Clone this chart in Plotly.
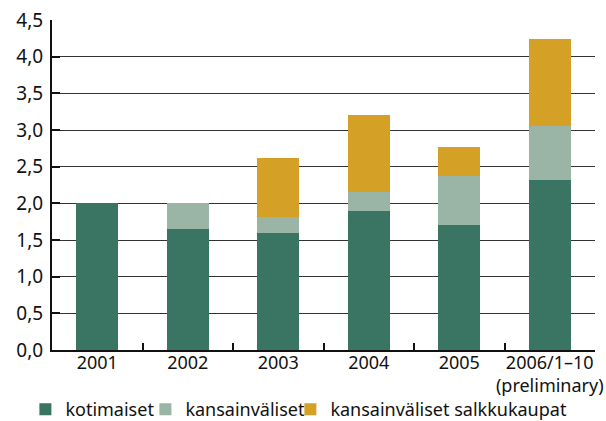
import plotly.graph_objects as go

categories = ["2001", "2002", "2003", "2004", "2005", "2006/1–10<br>(preliminary)"]
kotimaiset = [2.0, 1.65, 1.59, 1.90, 1.70, 2.32]
kansainvaliset = [0.0, 0.36, 0.22, 0.25, 0.67, 0.73]
salkkukaupat = [0.0, 0.0, 0.81, 1.05, 0.40, 1.19]
y_ticks = [0, 0.5, 1.0, 1.5, 2.0, 2.5, 3.0, 3.5, 4.0, 4.5]

fig = go.Figure()
fig.add_bar(x=categories, y=kotimaiset, name="kotimaiset", marker_color="#3a7563",
            marker_line_width=0, legend="legend")
fig.add_bar(x=categories, y=kansainvaliset, name="kansainväliset", marker_color="#9ab5a5",
            marker_line_width=0, legend="legend2")
fig.add_bar(x=categories, y=salkkukaupat, name="kansainväliset salkkukaupat", marker_color="#d4a026",
            marker_line_width=0, legend="legend3")

leg_common = dict(orientation="h", yref="paper", y=-0.1805, yanchor="middle", xanchor="left",
                  bgcolor="rgba(0,0,0,0)", font=dict(size=18), itemwidth=30)

fig.update_layout(
    barmode="stack",
    bargap=0.54,
    width=606, height=421,
    margin=dict(l=52, r=11, t=20, b=71, autoexpand=False),
    paper_bgcolor="white", plot_bgcolor="white",
    separators=", ",
    font=dict(family="Noto Sans, Open Sans, sans-serif", size=18, color="#111"),
    showlegend=True,
    legend=dict(x=-0.049, **leg_common),
    legend2=dict(x=0.172, **leg_common),
    legend3=dict(x=0.439, **leg_common),
)
fig.update_xaxes(
    showline=True, linecolor="#111", linewidth=2, tickangle=0,
    ticks="inside", tickson="boundaries", ticklen=7, tickwidth=2, tickcolor="#111",
    ticklabelstandoff=-5,
    showgrid=False, mirror=False,
)
fig.update_yaxes(
    range=[0, 4.5], tickvals=y_ticks, tickformat=".1f",
    showline=True, linecolor="#111", linewidth=2,
    ticks="inside", ticklen=8, tickwidth=2, tickcolor="#111",
    ticklabelstandoff=3, tickfont=dict(size=19),
    showgrid=True, gridcolor="#333", gridwidth=1,
    zeroline=False,
)
fig.write_html("out.html")
